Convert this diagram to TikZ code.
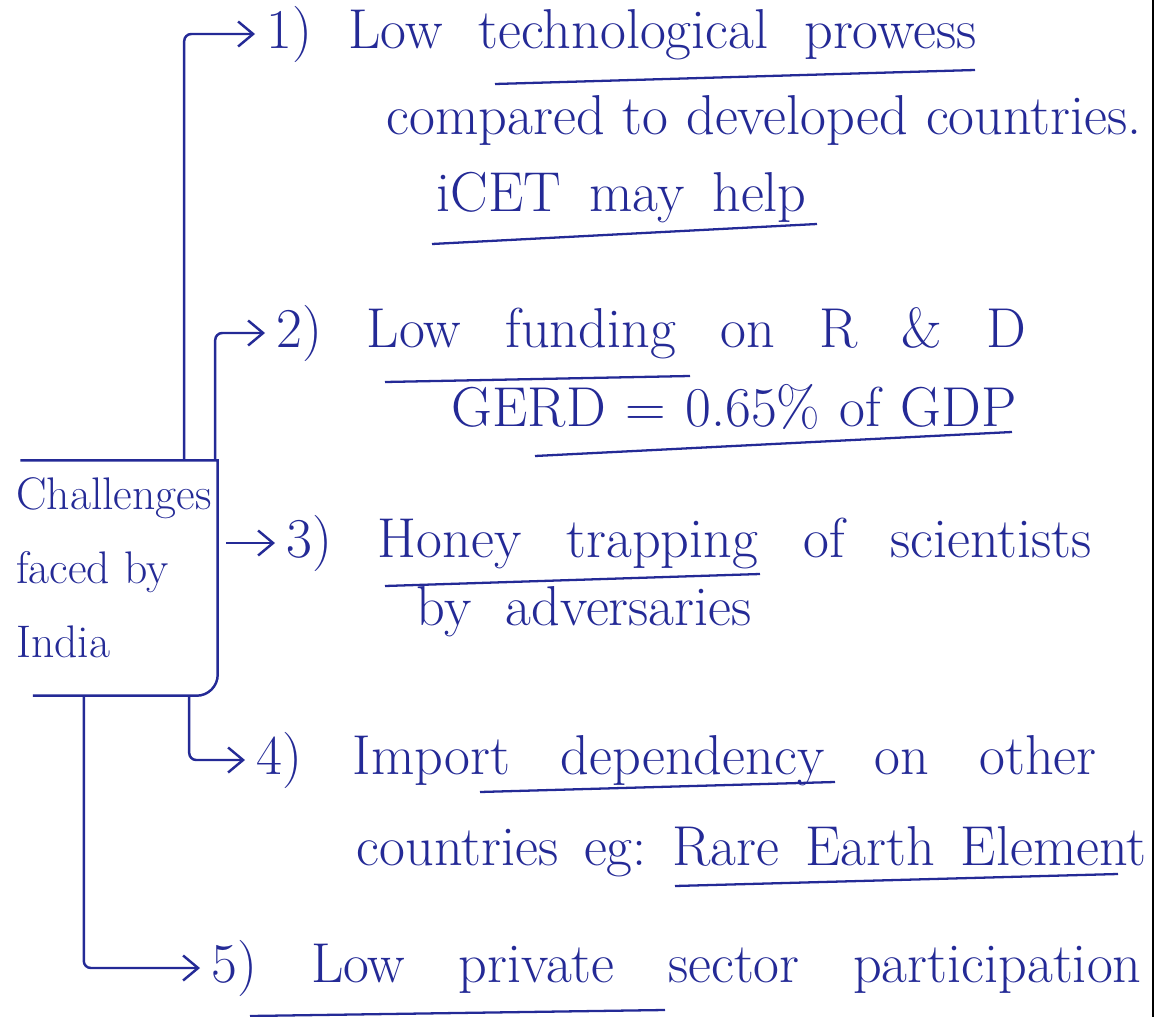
\documentclass[tikz,border=0pt]{standalone}
\usepackage{tikz}
\usetikzlibrary{arrows.meta}
\definecolor{ink}{RGB}{36,42,150}
\newcommand{\handfont}{\fontsize{32}{38}\selectfont\frenchspacing\spaceskip=0.6em plus 2em minus 0.4em\relax}
\newcommand{\spread}[2]{\makebox[#1][s]{#2}}

\begin{document}
\begin{tikzpicture}[x=0.02cm,y=-0.02cm,ink,line width=1.4pt]
    %
    % `root' is the box on the left, `point' a line of text.
    % `conn' is an arrow from the box, `uline' an underline.
    \tikzstyle{root} = [align=left,inner sep=0pt,minimum width=4.1cm,minimum height=4.66cm,font=\fontsize{26}{42}\selectfont]
    \tikzstyle{point} = [anchor=west,inner xsep=6pt,inner ysep=0pt,font=\handfont]
    \tikzstyle{conn} = [draw,-{Straight Barb[length=3mm,width=5mm]},rounded corners=4pt]
    \tikzstyle{uline} = [draw,line width=1.3pt]
    \useasboundingbox (0,0) rectangle (1167,1017);
    %
    % Page margin
    \draw[black,line width=1pt] (1153,0) -- (1153,1017);
    %
    % Box
    \node[root] (india) at (114,578) {Challenges\\faced by\\India\rule[-12pt]{0pt}{12pt}};
    \draw ([xshift=0.2cm]india.north west) -- (india.north east) [rounded corners=12pt] -- (india.south east) -- ([xshift=0.45cm]india.south west);
    %
    % Points
    \node[point] (p1) at (255,34) {\spread{14.2cm}{1) Low technological prowess}};
    \node[point] (d1a) at (375,120) {\spread{15.1cm}{compared to developed countries.}};
    \node[point] (d1b) at (425,198) {\spread{7.4cm}{iCET may help}};
    \node[point] (p2) at (265,333) {\spread{15.0cm}{2) Low funding on R \& D}};
    \node[point] (d2) at (440,407) {\spread{11.3cm}{GERD = 0.65\% of GDP}};
    \node[point] (p3) at (275,543) {\spread{16.1cm}{3) Honey trapping of scientists}};
    \node[point] (d3) at (405,612) {\spread{6.7cm}{by adversaries}};
    \node[point] (p4) at (245,760) {\spread{16.8cm}{4) Import dependency on other}};
    \node[point] (d4) at (345,852) {\spread{15.8cm}{countries eg: Rare Earth Element}};
    \node[point] (p5) at (200,968) {\spread{18.6cm}{5) Low private sector participation}};
    %
    % Arrows
    \draw[conn] ([xshift=-0.67cm]india.north east) |- (p1.west);
    \draw[conn] ([xshift=-0.05cm]india.north east) |- (p2.west);
    \draw[conn] ([xshift=0.17cm]india.east |- p3.west) -- (p3.west);
    \draw[conn] ([xshift=-0.57cm]india.south east) |- (p4.west);
    \draw[conn] ([xshift=1.47cm]india.south west) |- (p5.west);
    %
    % Underlines
    \draw[uline] (495,84) -- (975,70);
    \draw[uline] (432,244) -- (817,224);
    \draw[uline] (385,382) -- (690,376);
    \draw[uline] (535,456) -- (1012,432);
    \draw[uline] (385,586) -- (760,574);
    \draw[uline] (480,792) -- (835,782);
    \draw[uline] (675,886) -- (1118,874);
    \draw[uline] (250,1016) -- (665,1010);
    %
\end{tikzpicture}
\end{document}
